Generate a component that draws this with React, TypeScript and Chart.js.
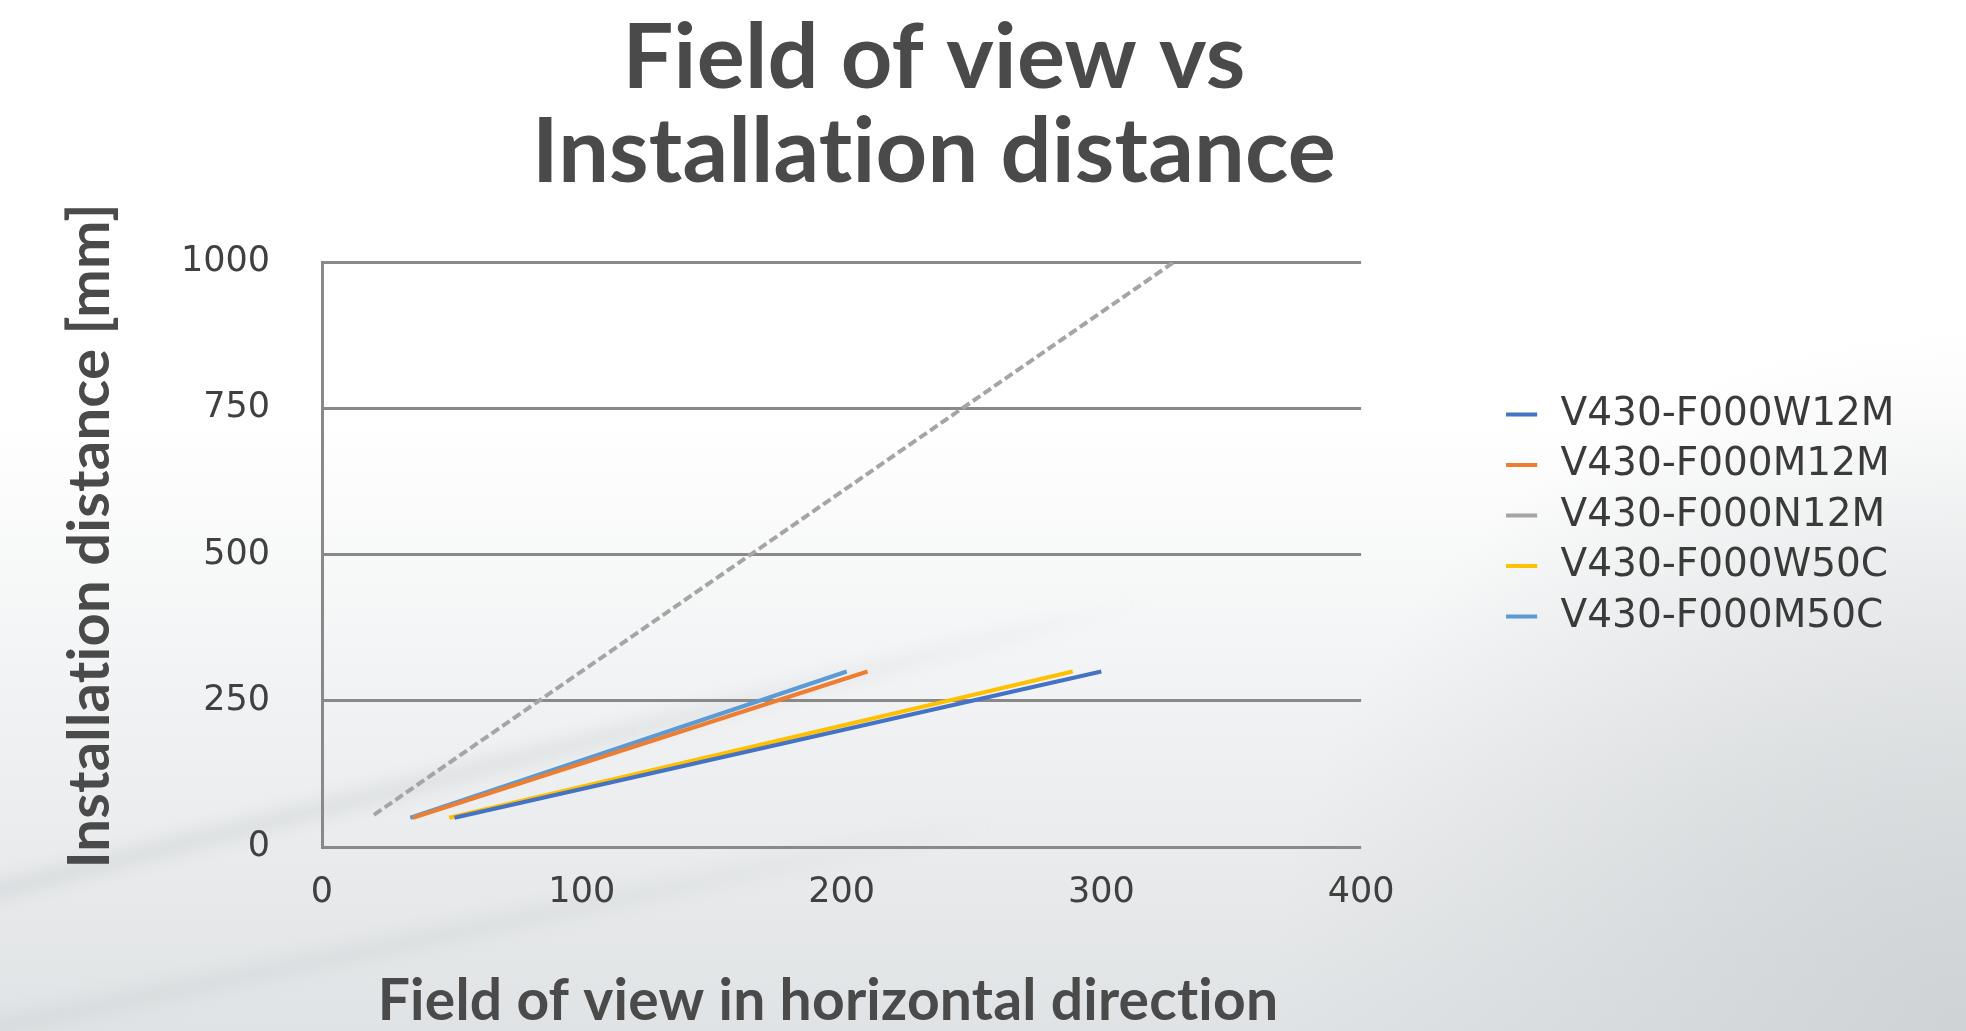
import React, { useEffect, useRef } from 'react';
import { Chart, registerables } from 'chart.js';

Chart.register(...registerables);

// ---- data ----
const seriesNames = ['V430-F000W12M', 'V430-F000M12M', 'V430-F000N12M', 'V430-F000W50C', 'V430-F000M50C'];
const seriesColors = ['#4472C4', '#ED7D31', '#A5A5A5', '#FFC000', '#5B9BD5'];

const w12mX = [51, 300];
const w12mY = [50, 300];
const m12mX = [35, 210];
const m12mY = [50, 300];
const n12mX = [20, 328];
const n12mY = [55, 1000];
const w50cX = [49, 289];
const w50cY = [50, 300];
const m50cX = [34, 202];
const m50cY = [50, 300];

const xTickValues = [0, 100, 200, 300, 400];
const yTickValues = [0, 250, 500, 750, 1000];

const titleLines = ['Field of view vs', 'Installation distance'];
const xAxisTitle = 'Field of view in horizontal direction';
const yAxisTitle = 'Installation distance [mm]';

const seriesX = [w12mX, m12mX, n12mX, w50cX, m50cX];
const seriesY = [w12mY, m12mY, n12mY, w50cY, m50cY];

const W = 1966;
const H = 1031;

const backgroundPlugin = {
  id: 'bgPaint',
  beforeDraw(chart: any) {
    const ctx = chart.ctx;
    ctx.save();
    ctx.fillStyle = '#ffffff';
    ctx.fillRect(0, 0, W, H);
    const g = ctx.createLinearGradient(0, 420, 0, H);
    g.addColorStop(0, 'rgba(224,227,229,0)');
    g.addColorStop(1, 'rgba(224,227,229,1)');
    ctx.fillStyle = g;
    ctx.fillRect(0, 420, W, H - 420);
    const r = ctx.createRadialGradient(W, H, 0, W, H, 700);
    r.addColorStop(0, 'rgba(205,209,211,0.9)');
    r.addColorStop(1, 'rgba(205,209,211,0)');
    ctx.fillStyle = r;
    ctx.fillRect(0, 0, W, H);
    const streak = (x0: number, y0: number, x1: number, y1: number, w: number, a: number) => {
      ctx.save();
      const sg = ctx.createLinearGradient(x0, y0, x1, y1);
      sg.addColorStop(0, `rgba(205,210,212,${a})`);
      sg.addColorStop(0.6, `rgba(205,210,212,${a * 0.7})`);
      sg.addColorStop(1, 'rgba(205,210,212,0)');
      ctx.strokeStyle = sg;
      ctx.lineWidth = w;
      ctx.lineCap = 'round';
      ctx.filter = 'blur(8px)';
      ctx.beginPath();
      ctx.moveTo(x0, y0);
      ctx.lineTo(x1, y1);
      ctx.stroke();
      ctx.restore();
    };
    streak(-40, 900, 1150, 600, 16, 0.6);
    streak(-40, 1035, 1000, 820, 18, 0.5);
    ctx.restore();
  },
};

const textPlugin = {
  id: 'titles',
  afterDraw(chart: any) {
    const ctx = chart.ctx;
    ctx.save();
    try { (ctx as any).letterSpacing = '0.2px'; } catch (e) { /* ignore */ }
    ctx.fillStyle = '#4a4a4a';
    ctx.font = '700 90px Lato';
    ctx.textAlign = 'center';
    ctx.textBaseline = 'alphabetic';
    ctx.fillText(titleLines[0], 934, 88);
    ctx.fillText(titleLines[1], 934, 182);

    ctx.font = '700 57px Lato';
    ctx.textBaseline = 'middle';
    ctx.fillText(xAxisTitle, 828, 1002);

    ctx.font = '700 58px Lato';
    ctx.translate(90, 536);
    ctx.rotate(-Math.PI / 2);
    ctx.fillText(yAxisTitle, 0, 0);
    ctx.restore();
  },
};

export default function App() {
  const canvasRef = useRef<HTMLCanvasElement | null>(null);

  useEffect(() => {
    document.body.style.margin = '0';
    const canvas = canvasRef.current;
    if (!canvas) return;

    const datasets = seriesNames.map((name, i) => ({
      label: name,
      data: seriesX[i].map((x, j) => ({ x, y: seriesY[i][j] })),
      borderColor: seriesColors[i],
      backgroundColor: seriesColors[i],
      borderWidth: 4,
      borderDash: i === 2 ? [9, 4] : [],
      showLine: true,
      pointRadius: 0,
      pointHoverRadius: 0,
      tension: 0,
      fill: false,
    }));

    const tickFont = { family: 'DejaVu Sans', size: 35 };

    const chart = new Chart(canvas, {
      type: 'scatter',
      data: { datasets },
      options: {
        responsive: false,
        animation: false,
        devicePixelRatio: 1,
        layout: { padding: { left: 61, right: 61.5, top: 0, bottom: 0 } },
        plugins: {
          tooltip: { enabled: false },
          title: { display: false },
          legend: {
            display: true,
            position: 'right',
            align: 'center',
            maxWidth: 1000,
            labels: {
              usePointStyle: true,
              pointStyle: 'line',
              boxWidth: 39,
              boxHeight: 22,
              padding: 11.5,
              color: '#3a3a3a',
              font: { family: 'DejaVu Sans', size: 39 },
            },
          },
        },
        scales: {
          x: {
            type: 'linear',
            position: 'bottom',
            min: 0,
            max: 400,
            afterBuildTicks: (s: any) => { s.ticks = xTickValues.map((v) => ({ value: v })); },
            ticks: { padding: 25, color: '#404040', font: tickFont, maxRotation: 0, autoSkip: false, callback: (v: any) => String(v) },
            grid: { display: false, drawTicks: false },
            border: { display: false },
            title: { display: false },
            afterFit: (s: any) => { s.height = 184; },
          },
          y: {
            type: 'linear',
            position: 'left',
            min: 0,
            max: 1000,
            afterBuildTicks: (s: any) => { s.ticks = yTickValues.map((v) => ({ value: v })); },
            ticks: { padding: 52, color: '#404040', font: tickFont, autoSkip: false, callback: (v: any) => String(v) },
            grid: { color: '#898989', lineWidth: 3, drawTicks: false, tickLength: 0 },
            border: { display: true, color: '#898989', width: 3 },
            title: { display: false },
            afterFit: (s: any) => { s.width = 261; },
          },
          yGap: {
            type: 'linear',
            axis: 'y',
            position: 'right',
            display: true,
            grid: { display: false, drawTicks: false },
            border: { display: false },
            ticks: { display: false },
            afterFit: (s: any) => { s.width = 129.5; },
          },
          xTop: {
            type: 'linear',
            axis: 'x',
            position: 'top',
            display: true,
            grid: { display: false, drawTicks: false },
            border: { display: false },
            ticks: { display: false },
            afterFit: (s: any) => { s.height = 262; },
          },
        },
      } as any,
      plugins: [backgroundPlugin, textPlugin],
    });

    return () => chart.destroy();
  }, []);

  return (
    <div style={{ width: W, height: H }}>
      <canvas ref={canvasRef} width={W} height={H} style={{ display: 'block', width: W, height: H }} />
    </div>
  );
}
